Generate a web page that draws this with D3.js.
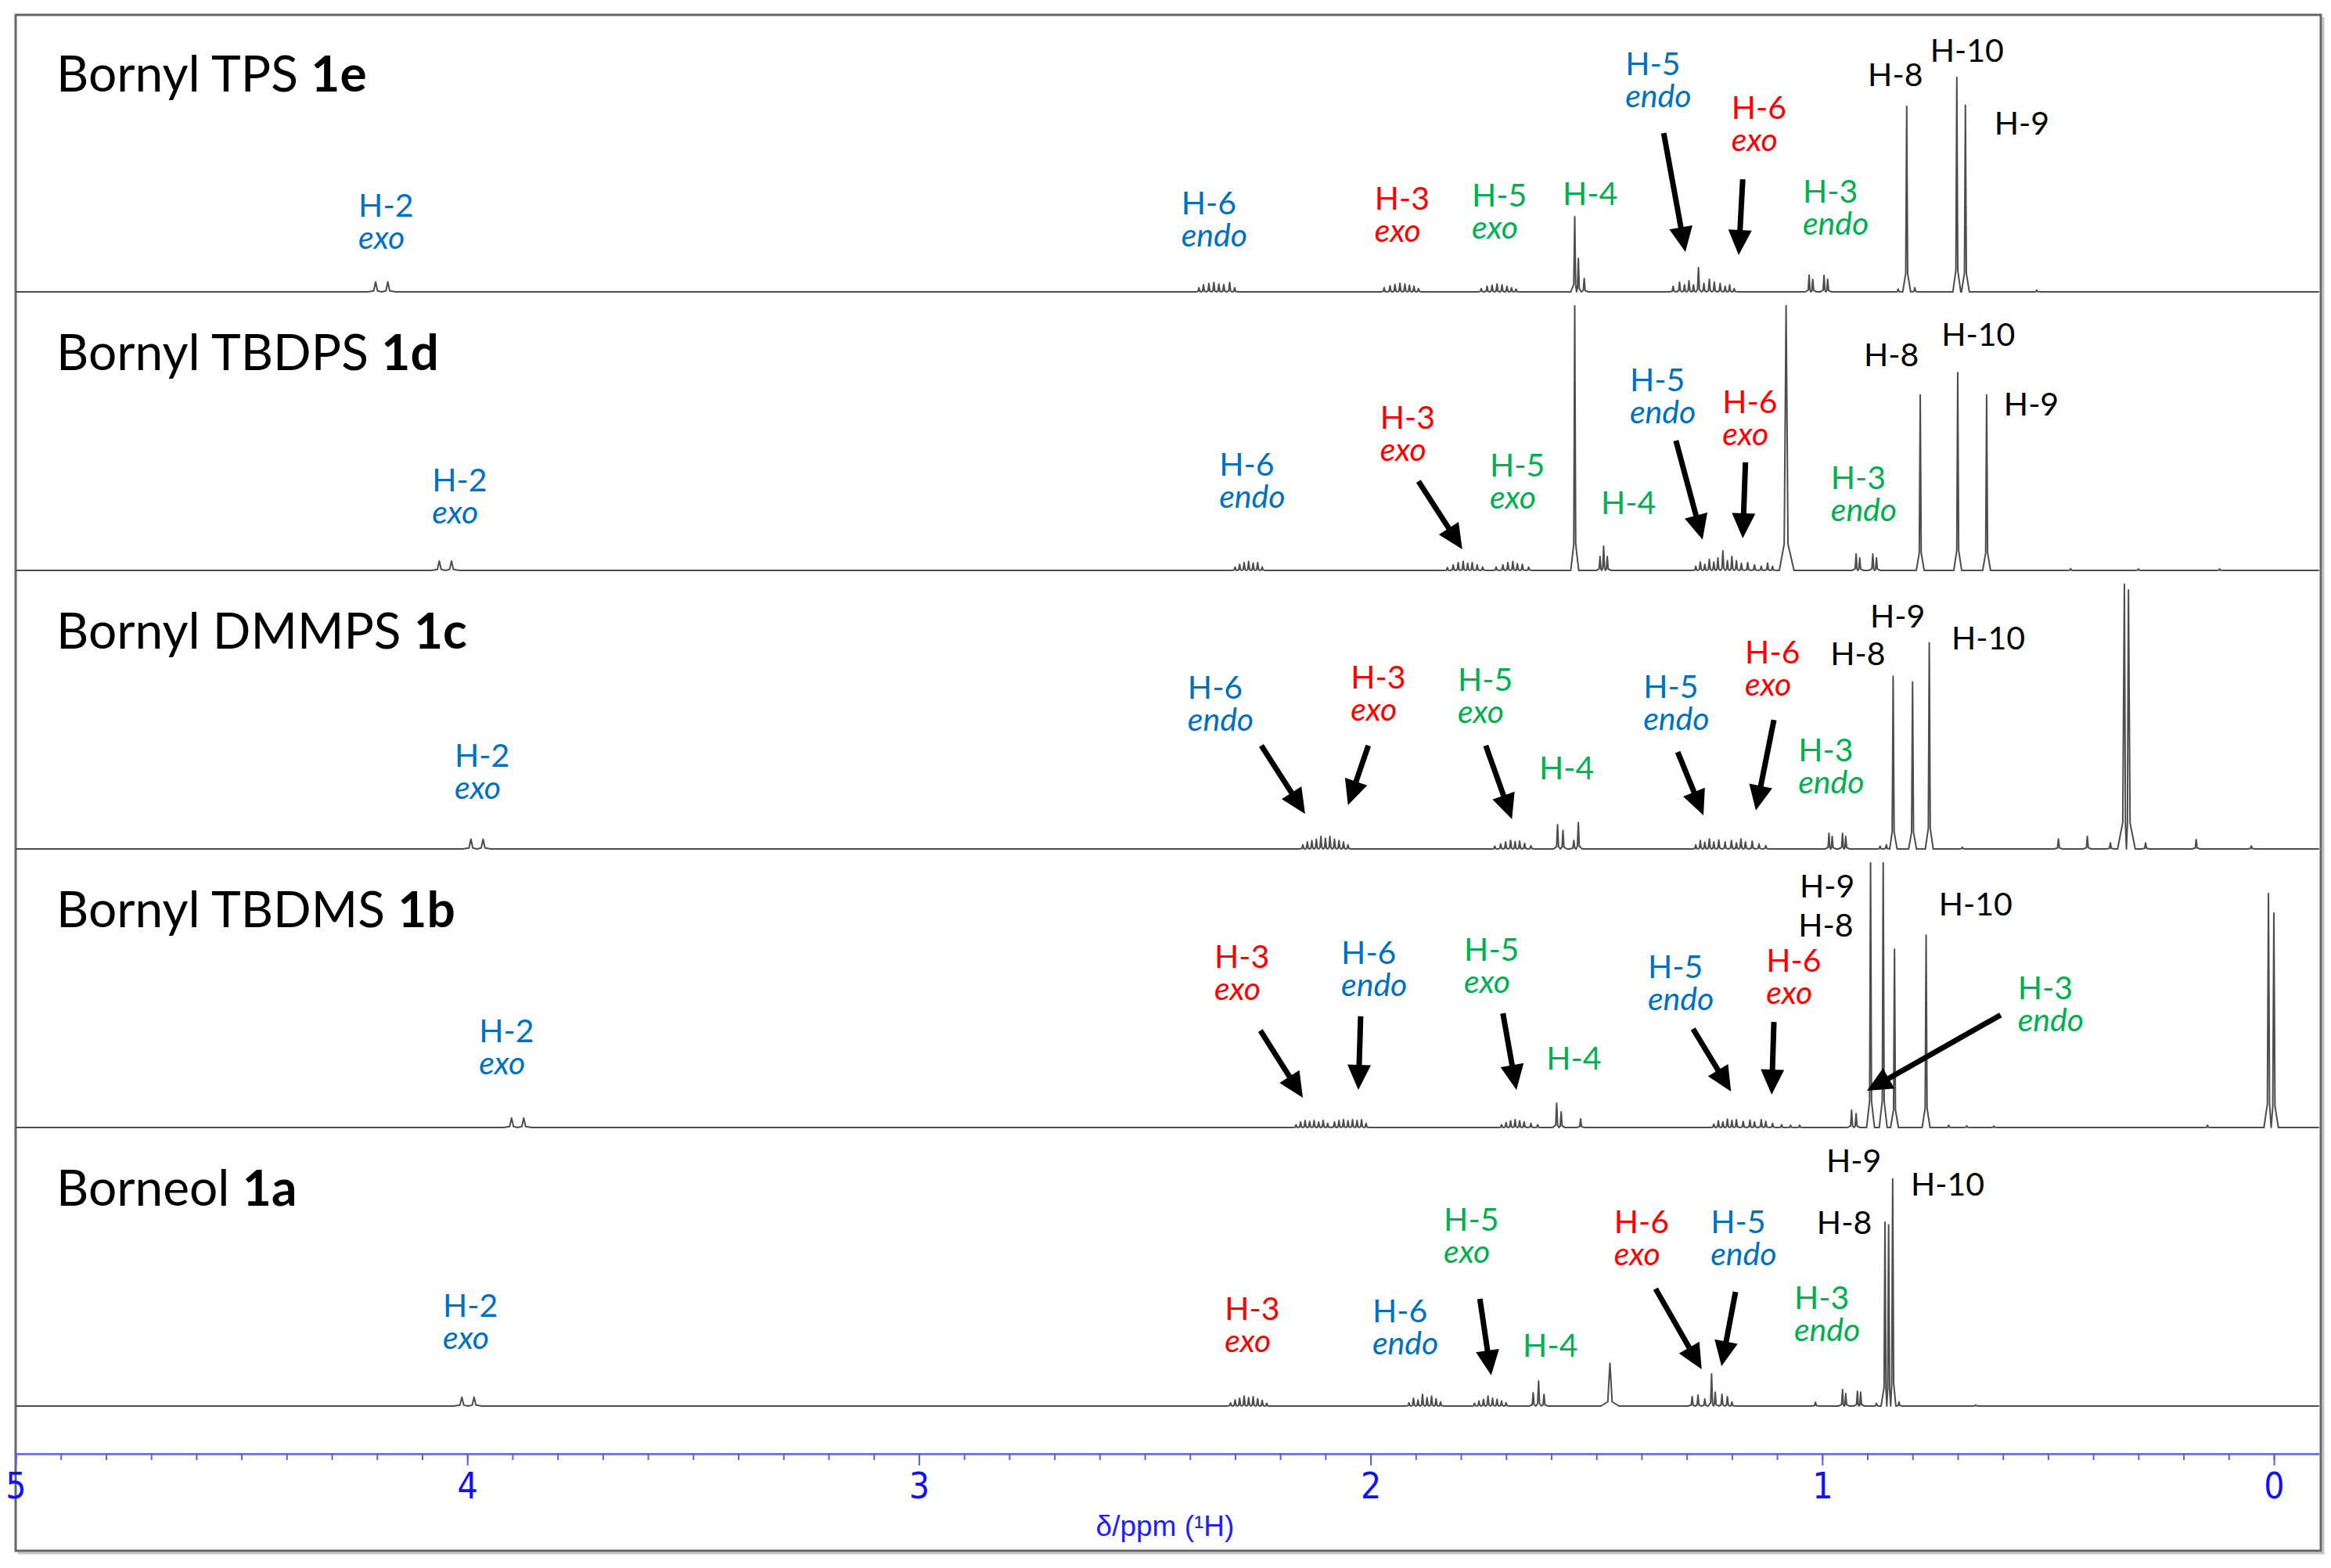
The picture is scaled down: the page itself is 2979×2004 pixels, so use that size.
<!DOCTYPE html>
<html>
<head>
<meta charset="utf-8">
<script src="https://cdn.jsdelivr.net/npm/d3@7"></script>
<style>
  body { margin: 0; background: #fff; }
  svg { display: block; }
  .lbl { font-family: Lato, "Open Sans", sans-serif; font-size: 41px; }
  .ttl { font-family: Lato, "Open Sans", sans-serif; font-size: 64px; }
  .axnum { font-family: "Liberation Sans Narrow", "DejaVu Sans Condensed", "DejaVu Sans", sans-serif; font-stretch: condensed; }
</style>
</head>
<body>
<svg id="chart" width="2979" height="2004"></svg>
<script>
// ---- data ----
var axisTicks = [5, 4, 3, 2, 1, 0];
var axisTitle = "\u03b4/ppm (\u00b9H)";

var panelNames = ["Bornyl TPS", "Bornyl TBDPS", "Bornyl DMMPS", "Bornyl TBDMS", "Borneol"];
var panelIds = ["1e", "1d", "1c", "1b", "1a"];

// peaks: [ppm, height (% of panel), half width in ppm (optional)]
var peaksTPS = [
  [4.203,3.6,0.007],[4.176,3.6,0.007],
  [2.380,1.5],[2.370,2.5],[2.358,3.0],[2.347,3.4],[2.336,2.8],[2.325,2.6],[2.312,3.4],[2.301,1.5],
  [1.970,1.5],[1.957,2.2],[1.946,2.6],[1.935,3.1],[1.924,2.8],[1.914,2.4],[1.904,2.0],[1.894,1.2],
  [1.755,1.2],[1.742,2.0],[1.731,2.4],[1.720,2.8],[1.709,2.5],[1.698,2.0],[1.688,1.5],[1.678,1.0],
  [1.548,27],[1.540,12],[1.527,4.8],
  [1.330,2.0],[1.316,3.5],[1.305,2.5],[1.295,4.0],[1.285,2.5],[1.274,8.7],[1.262,3.0],[1.250,4.5],
  [1.239,3.5],[1.226,3.0],[1.215,2.0],[1.205,2.5],[1.195,1.2],
  [1.029,6.0],[1.021,4.5],[0.996,5.9],[0.988,4.5],
  [0.832,1.0],[0.813,66.6],[0.795,1.5],
  [0.702,77],[0.683,67],
  [0.525,0.6]
];
var peaksTBDPS = [
  [4.062,3.4,0.007],[4.035,3.4,0.007],
  [2.300,1.2],[2.290,2.2],[2.280,2.8],[2.270,3.2],[2.260,2.6],[2.250,2.8],[2.240,1.2],
  [1.830,1.0],[1.817,2.0],[1.806,2.8],[1.795,3.2],[1.785,2.5],[1.775,2.8],[1.764,2.0],[1.752,1.2],
  [1.722,1.2],[1.707,2.0],[1.696,2.8],[1.685,3.2],[1.675,2.4],[1.664,2.2],[1.650,1.2],
  [1.548,95],
  [1.492,5.0],[1.484,8.7],[1.476,5.0],
  [1.280,1.5],[1.270,3.0],[1.260,2.2],[1.250,4.0],[1.240,3.0],[1.231,4.5],[1.220,7.0],[1.210,3.5],
  [1.200,5.0],[1.190,3.5],[1.179,2.5],[1.165,2.8],[1.150,2.0],[1.135,1.5],[1.121,2.6],[1.110,1.5],
  [1.080,95,0.007],
  [0.925,5.9],[0.917,4.5],[0.888,5.9],[0.880,4.5],
  [0.783,63],[0.700,71],[0.636,63],
  [0.450,0.6],[0.300,0.5],[0.120,0.5]
];
var peaksDMMPS = [
  [3.992,3.5,0.007],[3.965,3.5,0.007],
  [2.150,1.5],[2.140,2.5],[2.130,3.0],[2.120,3.5],[2.110,4.5],[2.100,3.8],[2.090,4.5],[2.080,3.5],
  [2.070,3.0],[2.060,2.5],[2.050,1.5],
  [1.725,1.0],[1.712,1.8],[1.701,2.5],[1.690,3.1],[1.680,2.6],[1.670,2.8],[1.659,2.0],[1.645,1.2],
  [1.586,8.7],[1.574,6.7],[1.550,3.0],[1.540,9.5],
  [1.280,1.5],[1.270,3.0],[1.260,2.4],[1.250,3.6],[1.240,2.5],[1.229,3.2],[1.215,2.5],[1.201,3.0],
  [1.190,2.2],[1.180,3.6],[1.170,2.5],[1.155,2.8],[1.140,1.8],[1.125,1.2],
  [0.985,5.6],[0.978,4.5],[0.955,5.6],[0.948,4.5],
  [0.872,1.0],[0.858,1.5],
  [0.843,62],[0.800,60],[0.763,74],
  [0.690,0.6],[0.477,3.6],[0.413,4.5],[0.362,2.2],[0.331,95,0.006],[0.322,93,0.006],[0.284,2.2],
  [0.172,3.4],[0.050,1.1]
];
var peaksTBDMS = [
  [3.902,3.4,0.007],[3.875,3.4,0.007],
  [2.165,1.0],[2.155,2.0],[2.145,2.5],[2.135,2.2],[2.125,2.5],[2.115,2.0],[2.105,2.5],[2.095,1.5],
  [2.080,2.0],[2.070,2.5],[2.060,2.8],[2.050,2.4],[2.040,2.8],[2.030,2.5],[2.020,2.8],[2.010,1.5],
  [1.710,1.0],[1.700,1.8],[1.690,2.4],[1.680,2.8],[1.670,2.4],[1.660,2.0],[1.645,1.5],[1.630,1.0],
  [1.588,8.7],[1.578,5.6],[1.535,3.1],
  [1.240,1.2],[1.230,2.4],[1.220,2.0],[1.210,3.0],[1.200,2.5],[1.190,2.8],[1.175,2.2],[1.160,2.6],
  [1.150,2.0],[1.135,2.8],[1.125,2.2],[1.110,1.5],[1.090,1.0],[1.070,0.8],[1.050,0.8],
  [0.935,6.2],[0.925,5.0],
  [0.893,95],[0.865,95],[0.840,64],[0.770,69],
  [0.720,0.8],[0.680,0.6],[0.620,0.5],[0.147,0.8],
  [0.012,84,0.004],[0.000,77,0.004]
];
var peaksBorneol = [
  [4.012,3.2,0.007],[3.985,3.2,0.007],
  [2.310,1.2],[2.300,2.2],[2.290,2.8],[2.280,3.6],[2.270,3.0],[2.260,3.4],[2.250,2.6],[2.240,2.0],[2.230,1.0],
  [1.915,1.2],[1.905,2.8],[1.895,2.2],[1.885,4.2],[1.875,3.0],[1.865,3.6],[1.855,2.6],[1.845,1.5],
  [1.770,1.0],[1.760,1.8],[1.750,2.4],[1.740,3.6],[1.730,2.8],[1.720,2.4],[1.710,1.8],[1.700,1.2],
  [1.640,4.8],[1.628,9.0],[1.616,4.2],
  [1.470,15.4,0.008],
  [1.288,3.4],[1.275,3.9],[1.260,2.5],[1.245,11.5],[1.237,5.0],[1.222,4.2],[1.210,3.4],[1.200,1.5],
  [1.015,1.4],
  [0.955,5.9],[0.948,4.5],[0.922,5.3],[0.915,5.0],
  [0.880,1.0],
  [0.861,66],[0.853,65],[0.844,81.5],
  [0.830,1.5],[0.660,0.4]
];

// labels: [ppm, height %, line 1, line 2, colour]
var labelsTPS = [
  [4.241,27.0,"H-2","exo","blue"],[2.419,27.8,"H-6","endo","blue"],[1.991,29.5,"H-3","exo","red"],
  [1.776,30.6,"H-5","exo","green"],[1.575,31.2,"H-4","","green"],[1.436,77.8,"H-5","endo","blue"],
  [1.201,62.1,"H-6","exo","red"],[1.043,32.0,"H-3","endo","green"],[0.899,73.9,"H-8","","black"],
  [0.761,82.6,"H-10","","black"],[0.619,56.5,"H-9","","black"]
];
var labelsTBDPS = [
  [4.078,28.4,"H-2","exo","blue"],[2.335,34.0,"H-6","endo","blue"],[1.979,50.8,"H-3","exo","red"],
  [1.736,33.7,"H-5","exo","green"],[1.490,20.2,"H-4","","green"],[1.426,64.3,"H-5","endo","blue"],
  [1.221,56.5,"H-6","exo","red"],[0.981,29.2,"H-3","endo","green"],[0.908,73.3,"H-8","","black"],
  [0.736,80.6,"H-10","","black"],[0.598,55.6,"H-9","","black"]
];
var labelsDMMPS = [
  [4.028,29.5,"H-2","exo","blue"],[2.405,53.9,"H-6","endo","blue"],[2.044,57.6,"H-3","exo","red"],
  [1.807,56.7,"H-5","exo","green"],[1.627,25.0,"H-4","","green"],[1.396,54.2,"H-5","endo","blue"],
  [1.171,66.6,"H-6","exo","red"],[1.053,31.5,"H-3","endo","green"],[0.982,66.0,"H-8","","black"],
  [0.894,79.5,"H-9","","black"],[0.714,71.6,"H-10","","black"]
];
var labelsTBDMS = [
  [3.974,30.6,"H-2","exo","blue"],[2.346,57.3,"H-3","exo","red"],[2.065,58.7,"H-6","endo","blue"],
  [1.793,59.8,"H-5","exo","green"],[1.611,20.8,"H-4","","green"],[1.386,53.7,"H-5","endo","blue"],
  [1.124,55.9,"H-6","exo","red"],[1.050,82.6,"H-9","","black"],[1.053,68.5,"H-8","","black"],
  [0.742,76.1,"H-10","","black"],[0.567,46.1,"H-3","endo","green"]
];
var labelsBorneol = [
  [4.054,32.0,"H-2","exo","blue"],[2.323,30.9,"H-3","exo","red"],[1.996,30.1,"H-6","endo","blue"],
  [1.838,62.9,"H-5","exo","green"],[1.663,17.7,"H-4","","green"],[1.461,62.1,"H-6","exo","red"],
  [1.247,62.1,"H-5","endo","blue"],[1.062,34.8,"H-3","endo","green"],[0.991,84.0,"H-9","","black"],
  [1.012,61.8,"H-8","","black"],[0.804,75.6,"H-10","","black"]
];

// arrows: [ppm from, height from, ppm to, height to]
var arrowsTPS = [[1.351,57.0,1.303,14.3],[1.176,40.4,1.185,13.2]];
var arrowsTBDPS = [[1.894,32.0,1.797,7.6],[1.324,46.6,1.265,11.0],[1.170,38.8,1.176,11.5]];
var arrowsDMMPS = [[2.242,37.1,2.145,12.6],[2.005,37.1,2.050,15.7],[1.745,37.1,1.687,10.7],
                   [1.320,34.8,1.263,12.1],[1.107,46.3,1.147,13.8]];
var arrowsTBDMS = [[2.244,34.8,2.150,10.7],[2.022,39.9,2.027,13.5],[1.707,41.0,1.677,13.5],
                   [1.286,35.4,1.202,12.9],[1.107,37.9,1.112,11.8],[0.605,40.4,0.901,13.2]];
var arrowsBorneol = [[1.758,38.5,1.733,11.0],[1.369,42.1,1.267,13.2],[1.192,41.0,1.223,14.3]];

var panelPeaks = [peaksTPS, peaksTBDPS, peaksDMMPS, peaksTBDMS, peaksBorneol];
var panelLabels = [labelsTPS, labelsTBDPS, labelsDMMPS, labelsTBDMS, labelsBorneol];
var panelArrows = [arrowsTPS, arrowsTBDPS, arrowsDMMPS, arrowsTBDMS, arrowsBorneol];

// ---- layout ----
var colors = {blue: "#0070C0", red: "#FF0000", green: "#00B050", black: "#000000"};
var frameL = 20, frameR = 2966, frameT = 19, frameB = 1982;
var panelH = 356;
var baselines = [373, 729, 1085, 1441, 1797];
var axisY = 1858;

var svg = d3.select("#chart");

var x = d3.scaleLinear()
    .domain([5, -0.1])
    .range([frameL, frameL + 5.1 * 577.2]);

// frame with a soft shadow
svg.append("path")
   .attr("d", "M" + (frameL + 3) + "," + (frameB + 3) + "H" + (frameR + 3) + "V" + (frameT + 3))
   .attr("fill", "none").attr("stroke", "#c4c4c4").attr("stroke-width", 3);
svg.append("rect")
   .attr("x", frameL).attr("y", frameT)
   .attr("width", frameR - frameL).attr("height", frameB - frameT)
   .attr("fill", "none").attr("stroke", "#666").attr("stroke-width", 3);

function spectrumPoints(peaks) {
  var p = peaks.slice().sort(function(a, b) { return b[0] - a[0]; });
  var pts = [[5, 0]];
  p.forEach(function(d, i) {
    var w = d[2] || 0.0035;
    var prev = i > 0 ? p[i - 1][0] : 5.3;
    var next = i < p.length - 1 ? p[i + 1][0] : -0.3;
    var l = Math.min(w * 2.5, (prev - d[0]) / 2);
    var r = Math.min(w * 2.5, (d[0] - next) / 2);
    var il = Math.min(w * 0.6, l * 0.5), ir = Math.min(w * 0.6, r * 0.5);
    pts.push([d[0] + l, 0], [d[0] + il, d[1] * 0.1], [d[0], d[1]],
             [d[0] - ir, d[1] * 0.1], [d[0] - r, 0]);
  });
  pts.push([-0.1, 0]);
  return pts;
}

panelPeaks.forEach(function(peaks, i) {
  var y = d3.scaleLinear().domain([0, 100]).range([baselines[i], baselines[i] - panelH]);
  var g = svg.append("g");

  var line = d3.line()
      .x(function(d) { return x(d[0]); })
      .y(function(d) { return y(d[1]); });

  g.append("path")
   .datum(spectrumPoints(peaks))
   .attr("d", line)
   .attr("fill", "none")
   .attr("stroke", "#4d4d4d")
   .attr("stroke-width", 2)
   .attr("stroke-linejoin", "round");

  // title
  var t = g.append("text")
   .attr("class", "ttl")
   .attr("x", 72)
   .attr("y", baselines[i] - panelH + 100);
  t.append("tspan").text(panelNames[i] + " ");
  t.append("tspan").attr("font-weight", "bold").text(panelIds[i]);

  // arrows
  panelArrows[i].forEach(function(a) {
    var x0 = x(a[0]), y0 = y(a[1]), x1 = x(a[2]), y1 = y(a[3]);
    var dx = x1 - x0, dy = y1 - y0, len = Math.sqrt(dx * dx + dy * dy);
    var ux = dx / len, uy = dy / len, hl = 32, hw = 15;
    var bx = x1 - ux * hl, by = y1 - uy * hl;
    g.append("line")
     .attr("x1", x0).attr("y1", y0).attr("x2", bx + ux * 2).attr("y2", by + uy * 2)
     .attr("stroke", "#000").attr("stroke-width", 7);
    g.append("polygon")
     .attr("points", [[x1, y1], [bx - uy * hw, by + ux * hw], [bx + uy * hw, by - ux * hw]].join(" "))
     .attr("fill", "#000");
  });

  // labels: two separate lines, the second in italics
  panelLabels[i].forEach(function(d) {
    g.append("text")
     .attr("class", "lbl")
     .attr("x", x(d[0]))
     .attr("y", y(d[1]))
     .attr("fill", colors[d[4]])
     .text(d[2]);
    if (d[3]) {
      g.append("text")
       .attr("class", "lbl")
       .attr("x", x(d[0]))
       .attr("y", y(d[1]) + 41)
       .attr("fill", colors[d[4]])
       .attr("font-style", "italic")
       .text(d[3]);
    }
  });
});

// ppm axis
var minorTicks = d3.range(0, 51).map(function(d) { return d / 10; });

var minorAxis = d3.axisBottom(x)
    .tickValues(minorTicks)
    .tickSize(8)
    .tickSizeOuter(0)
    .tickFormat("");
var majorAxis = d3.axisBottom(x)
    .tickValues(axisTicks)
    .tickSize(15)
    .tickSizeOuter(0)
    .tickPadding(9)
    .tickFormat(d3.format("d"));

var gMinor = svg.append("g").attr("transform", "translate(0," + axisY + ")").call(minorAxis);
var gMajor = svg.append("g").attr("transform", "translate(0," + axisY + ")").call(majorAxis);

gMinor.select(".domain").attr("stroke", "#7373ff").attr("stroke-width", 3);
gMajor.select(".domain").remove();
gMinor.selectAll(".tick line").attr("stroke", "#5a5aff").attr("stroke-width", 2);
gMajor.selectAll(".tick line").attr("stroke", "#5a5aff").attr("stroke-width", 2);
gMajor.selectAll(".tick text")
    .attr("class", "axnum")
    .attr("fill", "#1010ff")
    .attr("font-size", 46);

svg.append("text")
   .attr("x", 1489)
   .attr("y", 1963)
   .attr("text-anchor", "middle")
   .attr("font-family", "Liberation Sans, Arial, sans-serif")
   .attr("font-size", 37)
   .attr("fill", "#2020ff")
   .text(axisTitle);
</script>
</body>
</html>
